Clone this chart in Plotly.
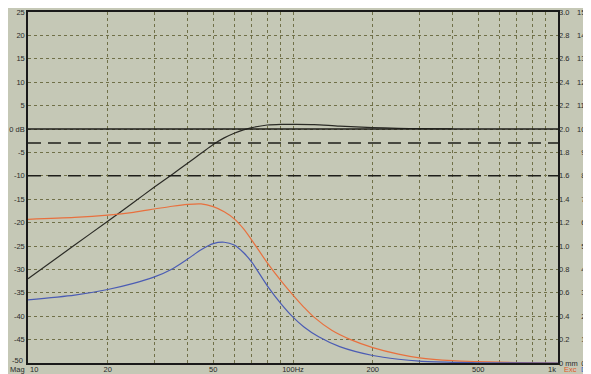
import plotly.graph_objects as go

# ---------------- data ----------------
freq_mag = [10, 15, 20, 25, 30, 35, 40, 45, 50, 55, 60, 65, 70, 80, 90, 100, 120, 150, 200, 250, 300, 400]
mag_db = [-32.0, -24.8, -19.7, -15.7, -12.4, -9.7, -7.3, -5.2, -3.3, -1.9, -0.9, -0.2, 0.3, 0.85, 1.0, 1.0,
          0.95, 0.6, 0.3, 0.15, 0.08, 0.05]

freq_exc = [10, 15, 20, 25, 30, 35, 40, 45, 50, 55, 60, 65, 70, 80, 90, 100, 110, 120, 140, 165, 200, 250, 300,
            400, 500, 700, 1000]
exc_mm = [1.228, 1.244, 1.264, 1.288, 1.316, 1.34, 1.356, 1.36, 1.336, 1.292, 1.232, 1.148, 1.048, 0.856, 0.704,
          0.58, 0.476, 0.392, 0.28, 0.20, 0.132, 0.076, 0.044, 0.02, 0.012, 0.004, 0.0]

freq_dis = [10, 15, 20, 25, 30, 35, 40, 45, 50, 55, 60, 65, 70, 80, 90, 100, 110, 125, 150, 200, 250, 300, 400,
            500, 1000]
dis_val = [2.70, 2.90, 3.14, 3.40, 3.68, 4.02, 4.44, 4.84, 5.10, 5.16, 5.04, 4.72, 4.30, 3.30, 2.54, 1.96, 1.54,
           1.12, 0.70, 0.32, 0.16, 0.08, 0.03, 0.01, 0.0]

ref_solid = [0]
ref_dashed = [-3, -10]

x_grid = [10, 20, 30, 40, 50, 60, 70, 80, 90, 100, 200, 300, 400, 500, 600, 700, 800, 900, 1000]
x_labels = {20: "20", 50: "50", 100: "100Hz", 200: "200", 500: "500"}

y_ticks = [-50, -45, -40, -35, -30, -25, -20, -15, -10, -5, 0, 5, 10, 15, 20, 25]
y_text = ["", "-45", "-40", "-35", "-30", "-25", "-20", "-15", "-10", "-5", "0 dB", "5", "10", "15", "20", "25"]
y_bottom_label = "-50"
mm_ticks = [0, 0.2, 0.4, 0.6, 0.8, 1.0, 1.2, 1.4, 1.6, 1.8, 2.0, 2.2, 2.4, 2.6, 2.8, 3.0]
mm_text = ["0 mm", "0.2", "0.4", "0.6", "0.8", "1.0", "1.2", "1.4", "1.6", "1.8", "2.0", "2.2", "2.4", "2.6", "2.8", "3.0"]
dis_ticks = list(range(0, 16))
dis_text = [("\u2007" + str(v)) if v < 10 else str(v) for v in dis_ticks]

# ---------------- style ----------------
BG = "#c5c8b6"
GRID = "#707048"
FONT = dict(family="Liberation Sans, Arial, sans-serif", size=7.5, color="#2a2a2a")

fig = go.Figure()
fig.add_trace(go.Scatter(x=freq_mag, y=mag_db, mode="lines",
                         line=dict(color="#2b2b26", width=1.2, shape="spline", smoothing=0.8),
                         yaxis="y", showlegend=False, hoverinfo="skip"))
fig.add_trace(go.Scatter(x=freq_exc, y=exc_mm, mode="lines",
                         line=dict(color="#e8703e", width=1.2, shape="spline", smoothing=0.8),
                         yaxis="y2", showlegend=False, hoverinfo="skip"))
fig.add_trace(go.Scatter(x=freq_dis, y=dis_val, mode="lines",
                         line=dict(color="#4b5cb4", width=1.2, shape="spline", smoothing=0.8),
                         yaxis="y3", showlegend=False, hoverinfo="skip"))

shapes = []
for v in ref_solid:
    shapes.append(dict(type="line", xref="paper", x0=0, x1=1, yref="y", y0=v, y1=v,
                       line=dict(color="#1e1e1a", width=1.5)))
for v in ref_dashed:
    shapes.append(dict(type="line", xref="paper", x0=0, x1=1, yref="y", y0=v, y1=v,
                       line=dict(color="#1e1e1a", width=1.5, dash="13px,7px")))

# the page has an 8px body margin, so the figure is 583x366 to fill the 591x374 window
fig.update_layout(
    width=583, height=366,
    margin=dict(l=20, r=33, t=4, b=11, autoexpand=False),
    paper_bgcolor=BG, plot_bgcolor=BG,
    font=FONT,
    shapes=shapes,
    xaxis=dict(type="log", range=[1, 3], tickvals=x_grid,
               ticktext=[x_labels.get(v, "") for v in x_grid],
               showgrid=True, gridcolor=GRID, griddash="3px,3px", gridwidth=1,
               showline=True, linecolor="#1a1a1a", linewidth=1.5, mirror=True,
               ticks="", zeroline=False, tickfont=FONT, ticklabelstandoff=-2, automargin=False,
               ticklabeloverflow="allow"),
    yaxis=dict(range=[-50, 25], tickvals=y_ticks, ticktext=y_text,
               showgrid=True, gridcolor=GRID, griddash="3px,3px", gridwidth=1,
               showline=True, linecolor="#1a1a1a", linewidth=1.5, mirror=True,
               ticks="", zeroline=False, tickfont=FONT, automargin=False, ticklabeloverflow="allow"),
    yaxis2=dict(range=[0, 3.0], overlaying="y", side="right", anchor="x",
                tickvals=mm_ticks, ticktext=mm_text, showgrid=False, zeroline=False,
                ticks="", tickfont=FONT, showline=False, automargin=False, ticklabeloverflow="allow"),
    yaxis3=dict(range=[0, 15], overlaying="y", side="right", anchor="free", position=1,
                tickvals=dis_ticks, ticktext=dis_text, showgrid=False, zeroline=False,
                ticks="", tickfont=FONT, showline=False, ticklabelstandoff=18, automargin=False,
                ticklabeloverflow="allow"),
)

annos = [
    dict(text=y_bottom_label, x=0, xref="paper", xanchor="right", xshift=-3, y=-50, yref="y", yanchor="middle",
         yshift=3),
    dict(text="Mag", x=0, xref="paper", xanchor="right", xshift=-1, y=0, yref="paper", yanchor="top", yshift=0),
    dict(text="10", x=0, xref="paper", xanchor="left", xshift=0, y=0, yref="paper", yanchor="top", yshift=0),
    dict(text="1k", x=1, xref="paper", xanchor="right", xshift=0, y=0, yref="paper", yanchor="top", yshift=0),
    dict(text="Exc", x=1, xref="paper", xanchor="left", xshift=4, y=0, yref="paper", yanchor="top", yshift=0,
         font=dict(family=FONT["family"], size=7.5, color="#e2582a")),
    dict(text="Dis", x=1, xref="paper", xanchor="left", xshift=21, y=0, yref="paper", yanchor="top", yshift=0,
         font=dict(family=FONT["family"], size=7.5, color="#3f63c4")),
]
for a in annos:
    a.setdefault("font", FONT)
    a["showarrow"] = False
    fig.add_annotation(**a)

fig.write_html("out.html")
